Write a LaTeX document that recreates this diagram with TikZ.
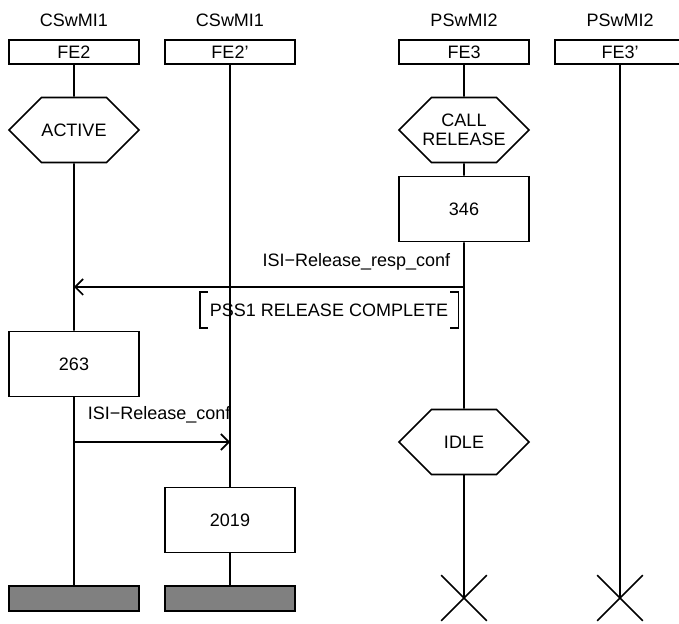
\documentclass[tikz,border=0pt]{standalone}
\usepackage{fontspec}
\setmainfont{Liberation Sans}
\usetikzlibrary{arrows.meta, positioning, shapes.symbols, shapes.misc}

\begin{document}
\begin{tikzpicture}[x=0.5pt, y=-0.5pt, line width=0.8pt,
  every node/.style={font=\fontsize{9}{10.5}\selectfont, inner sep=0pt},
  fe/.style={rectangle, draw, minimum width=65pt, minimum height=12pt},
  hexa/.style={signal, signal to=west and east, draw, align=center,
    font=\fontsize{9}{9.5}\selectfont, inner xsep=-5pt,
    minimum width=65pt, minimum height=32.5pt},
  task/.style={rectangle, draw, minimum width=65pt, minimum height=32.5pt},
  stopbar/.style={rectangle, draw, fill=gray, minimum width=65pt, minimum height=12.5pt},
  stopx/.style={cross out, draw, minimum size=22pt},
  msg/.style={-{Straight Barb[length=4pt, width=8pt]}}]

\useasboundingbox (0,0) rectangle (679,624);

% entities and functional entities
\node (ent2) at (74,20) {CSwMI1};
\node (ent2p) at (230,20) {CSwMI1};
\node (ent3) at (464,20) {PSwMI2};
\node (ent3p) at (620,20) {PSwMI2};
\node[fe] (fe2) at (74,52) {FE2};
\node[fe] (fe2p) at (230,52) {FE2'};
\node[fe] (fe3) at (464,52) {FE3};
\node[fe] (fe3p) at (620,52) {FE3'};

% states and actions
\node[hexa] (active) at (74,130) {ACTIVE};
\node[hexa] (callrel) at (464,130) {CALL\\RELEASE};
\node[task] (t346) at (464,209) {346};
\node[task] (t263) at (74,364) {263};
\node[hexa] (idle) at (464,442) {IDLE};
\node[task] (t2019) at (230,520) {2019};

% ends
\node[stopbar] (bar2) at (74,598.5) {};
\node[stopbar] (bar2p) at (230,598.5) {};
\node[stopx] (end3) at (464,598) {};
\node[stopx] (end3p) at (620,598) {};

% lifelines
\draw (fe2) -- (active);
\draw (active) -- (t263);
\draw (t263) -- (bar2);
\draw (fe2p) -- (t2019);
\draw (t2019) -- (bar2p);
\draw (fe3) -- (callrel);
\draw (callrel) -- (t346);
\draw (t346) -- (idle);
\draw (idle) -- (end3.center);
\draw (fe3p) -- (end3p.center);

% messages
\coordinate (m1a) at (464,287);
\coordinate (m1b) at (74,287);
\draw[msg] (m1a) -- (m1b);
\node[anchor=east] (m1lbl) at (451,262) {ISI−Release\_resp\_conf};

\node[minimum width=128.5pt, minimum height=17pt] (pss) at (329,310) {PSS1 RELEASE COMPLETE};
\draw ([xshift=4pt]pss.north west) -| (pss.south west) -- ++(8,0);
\draw ([xshift=-4pt]pss.north east) -| (pss.south east) -- ++(-8,0);

\coordinate (m2a) at (74,442);
\coordinate (m2b) at (230,442);
\draw[msg] (m2a) -- (m2b);
\node[anchor=west] (m2lbl) at (87,415) {ISI−Release\_conf};

\end{tikzpicture}
\end{document}
